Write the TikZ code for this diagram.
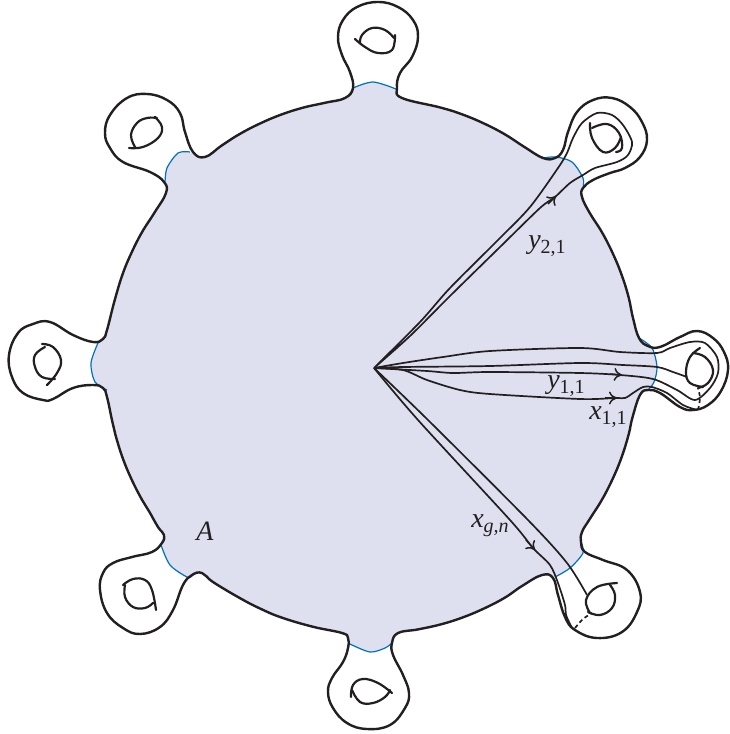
\documentclass[tikz,border=0pt]{standalone}
\usepackage{fontspec}
\setmainfont{Liberation Serif}
\usetikzlibrary{arrows.meta}
\definecolor{diskcolor}{RGB}{222,224,240}
\definecolor{cutcolor}{RGB}{0,114,188}
\definecolor{inkcolor}{RGB}{35,31,32}
\newcommand{\lowsub}[1]{\raisebox{-5pt}{\fontsize{20}{22}\selectfont #1}}

\begin{document}
\begin{tikzpicture}[x=1pt,y=-1pt]
  \tikzset{
    outline/.style={
      draw=inkcolor,
      line width=2.4pt,
      line join=round
    },
    cut/.style={
      draw=cutcolor,
      line width=1.2pt
    },
    curveline/.style={
      draw=inkcolor,
      line width=1.7pt,
      line join=round
    },
    hole/.style={
      draw=inkcolor,
      line width=2.2pt,
      line cap=round
    },
    tipline/.style={
      draw=inkcolor,
      line width=1.5pt,
      -{Computer Modern Rightarrow[length=8pt,width=13pt]}
    },
    label/.style={
      text=inkcolor,
      inner sep=0pt,
      font=\fontsize{28}{30}\selectfont
    }
  }
  \useasboundingbox (0,0) rectangle (730,734);
  \coordinate (base) at (374,368);

  % Shaded disk
  \fill[diskcolor] plot[smooth cycle,tension=0.7] coordinates {
    (221.6,145.6) (239.2,134.3) (259.8,123.6) (281.2,114.6) (303.3,107.6) (325.9,102.6)
    (345,98) (353,88) (373,82) (396,89) (402,98) (440.7,107.6) (462.8,114.6) (484.2,123.6)
    (504.8,134.3) (524.3,146.9) (543,158) (556,157) (572,162) (583,178) (582,197) (589.5,212.6)
    (601.9,232.2) (612.6,253) (621.5,274.5) (628.5,296.8) (633,318) (639,338) (652,348) (657,367)
    (654,382) (648,390) (640,395) (632.6,417) (628.5,435) (621.5,457.5) (612.6,479) (601.9,499.8)
    (589.5,519.4) (582,532) (581,542) (583,553) (570,568) (555,577) (542,575) (522,586)
    (504.8,597.7) (484.2,608.4) (462.8,617.4) (440.7,624.4) (418,629.4) (398,633) (392,643)
    (385,648) (370,652) (350,644) (348,638) (342,633) (312.3,626.6) (281.2,617.4) (259.8,608.4)
    (239.2,597.7) (213,582) (202,573) (187,577) (170,565) (161,545) (164,535) (158,527)
    (149.3,511.7) (142,499.8) (131.4,479) (122.5,457.5) (115.5,435) (112.3,421.6) (107,397)
    (105,389) (95,382) (91,363) (98,343) (107,330) (114.4,301.3) (122.5,274.5) (131.4,253)
    (142,232.2) (154.5,212.6) (166,193) (165,183) (167,168) (178,153) (190,152) (205,157)
  };

  % Blue arcs at the feet of the handles
  \draw[cut] plot[smooth] coordinates {(353,88) (373,82) (396,89)};
  \draw[cut] plot[smooth] coordinates {(543,158) (556,157) (572,162) (583,178) (583,188)};
  \draw[cut] plot[smooth] coordinates {(639,338) (652,348) (657,367) (654,382) (648,390)};
  \draw[cut] plot[smooth] coordinates {(581,542) (583,553) (570,568) (555,577)};
  \draw[cut] plot[smooth] coordinates {(392,643) (385,648) (370,652) (350,644)};
  \draw[cut] plot[smooth] coordinates {(161,545) (170,565) (187,577) (192,576)};
  \draw[cut] plot[smooth] coordinates {(107,390) (95,382) (91,363) (98,343)};
  \draw[cut] plot[smooth] coordinates {(165,183) (167,168) (178,153) (190,152)};

  % Boundary of the surface
  \draw[outline] plot[smooth cycle,tension=0.7] coordinates {
    (221.6,145.6) (239.2,134.3) (259.8,123.6) (281.2,114.6) (303.3,107.6) (325.9,102.6)
    (345,98) (353,88) (350,72) (342,55) (338,37) (343,20) (357,7) (378,2)
    (398,7) (413,20) (418,37) (412,57) (400,73) (397,88) (402,98) (440.7,107.6) (462.8,114.6)
    (484.2,123.6) (504.8,134.3) (524.3,146.9) (543,158) (555,158) (563,150) (568,132) (577,112)
    (593,100) (612,98) (630,107) (642,122) (647,140) (640,157) (625,168) (610,173) (593,180) (583,188)
    (582,197) (589.5,212.6) (601.9,232.2) (612.6,253) (621.5,274.5) (628.5,296.8) (633,318)
    (639,338) (648,346) (660,347) (680,337) (697,331) (713,338) (724,352) (728,370)
    (721,391) (708,405) (693,410) (680,407) (660,393) (648,390) (640,395) (632.6,417)
    (628.5,435) (621.5,457.5) (612.6,479) (601.9,499.8) (589.5,519.4)
    (582,532) (581,542) (585,552) (603,560) (627,570) (640,592) (637,612) (622,632)
    (597,638) (575,630) (565,617) (558,595) (553,578) (542,575) (522,586) (504.8,597.7)
    (484.2,608.4) (462.8,617.4) (440.7,624.4) (418,629.4) (398,633) (392,643) (393,655)
    (403,675) (409,693) (405,708) (390,725)
    (367,729) (347,723) (333,708) (328,692) (332,678) (343,662) (348,648) (348,638) (342,633)
    (312.3,626.6) (281.2,617.4) (259.8,608.4) (239.2,597.7) (213,582) (202,573) (192,575)
    (183,585) (173,610) (160,627)
    (140,634) (123,628) (107,613) (100,590) (103,573) (113,563) (132,557) (152,552) (162,543)
    (164,535) (158,527) (149.3,511.7) (142,499.8) (131.4,479) (122.5,457.5) (115.5,435)
    (112.3,421.6) (107,397) (103,388) (93,385) (73,388)
    (53,399) (43,400) (23,393) (12,377) (9,355) (18,333) (33,324) (50,322) (73,335) (93,342) (103,339)
    (107,330) (114.4,301.3) (122.5,274.5) (131.4,253) (142,232.2) (154.5,212.6) (166,193)
    (164,182) (150,172) (123,162) (110,148)
    (105,133) (110,115) (127,98) (147,94) (167,100) (180,113) (185,132) (193,152) (205,157)
  };

  % Holes, each one two strokes
  \draw[hole] plot[smooth,tension=0.7] coordinates {(355,39) (365,47) (378,53) (392,50) (395,35)};
  \draw[hole] plot[smooth,tension=0.7] coordinates {(360,43) (362,35) (372,28) (385,30) (394,38)};
  \draw[hole] plot[smooth,tension=0.7] coordinates {(590,123) (592,138) (603,152) (615,148) (621,137)};
  \draw[hole] plot[smooth,tension=0.7] coordinates {(592,128) (607,124) (619,133) (622,148) (616,152)};
  \draw[hole] plot[smooth,tension=0.7] coordinates {(700,348) (690,357) (686,372) (690,383) (703,387)};
  \draw[hole] plot[smooth,tension=0.7] coordinates {(693,353) (705,357) (713,370) (708,383) (698,388)};
  \draw[hole] plot[smooth,tension=0.7] coordinates {(617,583) (597,587) (586,600) (590,613)};
  \draw[hole] plot[smooth,tension=0.7] coordinates {(610,585) (615,595) (612,608) (600,615) (588,612)};
  \draw[hole] plot[smooth,tension=0.7] coordinates {(351,697) (353,685) (363,679) (378,683) (392,693)};
  \draw[hole] plot[smooth,tension=0.7] coordinates {(352,690) (360,702) (373,703) (385,697) (390,690)};
  \draw[hole] plot[smooth,tension=0.7] coordinates {(123,585) (133,579) (145,580) (152,590) (156,610)};
  \draw[hole] plot[smooth,tension=0.7] coordinates {(125,585) (125,597) (133,607) (145,608) (153,603)};
  \draw[hole] plot[smooth,tension=0.7] coordinates {(42,344) (53,347) (61,360) (57,373) (47,385)};
  \draw[hole] plot[smooth,tension=0.7] coordinates {(45,347) (35,355) (35,367) (42,377) (55,379)};
  \draw[hole] plot[smooth,tension=0.7] coordinates {(129,148) (143,147) (158,138) (162,127) (155,117)};
  \draw[hole] plot[smooth,tension=0.7] coordinates {(135,147) (131,135) (137,123) (147,118) (157,118)};

  % Loops from the base point
  \draw[curveline] plot[smooth] coordinates {
    (base) (420,322) (450,288) (500,238) (530,207) (558,168) (567,153) (573,138) (582,123)
    (597,113) (612,115) (623,125) (632,142) (628,155) (617,162) (595,168) (583,175) (570,183)
    (555,197) (540,208) (500,247) (450,296) (410,336) (base)
  };
  \draw[curveline] plot[smooth] coordinates {
    (base) (403,363) (443,357) (490,351) (580,348) (620,352) (657,353) (670,348) (690,342)
    (705,343) (717,357) (718,373) (710,388) (695,400) (677,390) (653,379) (620,375) (580,373)
    (490,372) (453,373) (427,371) (base)
  };
  \draw[curveline] plot[smooth] coordinates {
    (base) (403,370) (427,380) (460,390) (490,394) (580,399) (615,398) (625,398) (633,393)
    (643,387) (652,387) (667,393) (683,405) (697,410)
  };
  \draw[curveline] plot[smooth] coordinates {
    (base) (403,367) (490,366) (580,363) (623,365) (657,367) (673,372) (687,377)
  };
  \draw[curveline] plot[smooth] coordinates {
    (base) (418,420) (510,520) (533,548) (550,565) (558,583) (565,605) (566,615) (572,628)
  };
  \draw[curveline] plot[smooth] coordinates {
    (base) (428,420) (528,520) (567,563) (587,595)
  };

  % Dashed parts behind the handles
  \draw[curveline,dash pattern=on 4pt off 3pt] plot[smooth] coordinates {(698,410) (700,398) (698,388)};
  \draw[curveline,dash pattern=on 4pt off 3pt] plot[smooth] coordinates {(575,628) (583,619) (592,613)};

  % Arrowheads
  \coordinate (y21from) at (548,204);
  \coordinate (y21to) at (556,196);
  \coordinate (y11from) at (610,374);
  \coordinate (y11to) at (622,375);
  \coordinate (x11from) at (605,398);
  \coordinate (x11to) at (617,398);
  \coordinate (xgnfrom) at (526,540);
  \coordinate (xgnto) at (535,550);
  \draw[tipline] (y21from) -- (y21to);
  \draw[tipline] (y11from) -- (y11to);
  \draw[tipline] (x11from) -- (x11to);
  \draw[tipline] (xgnfrom) -- (xgnto);

  % Labels
  \node[label] at (547,246) (labely21) {\textit{y}\lowsub{2,1}};
  \node[label] at (566,386) (labely11) {\textit{y}\lowsub{1,1}};
  \node[label] at (608,417) (labelx11) {\textit{x}\lowsub{1,1}};
  \node[label] at (490,526) (labelxgn) {\textit{x}\lowsub{\textit{g,n}}};
  \node[label] at (205,531) (labela) {\textit{A}};
\end{tikzpicture}
\end{document}
